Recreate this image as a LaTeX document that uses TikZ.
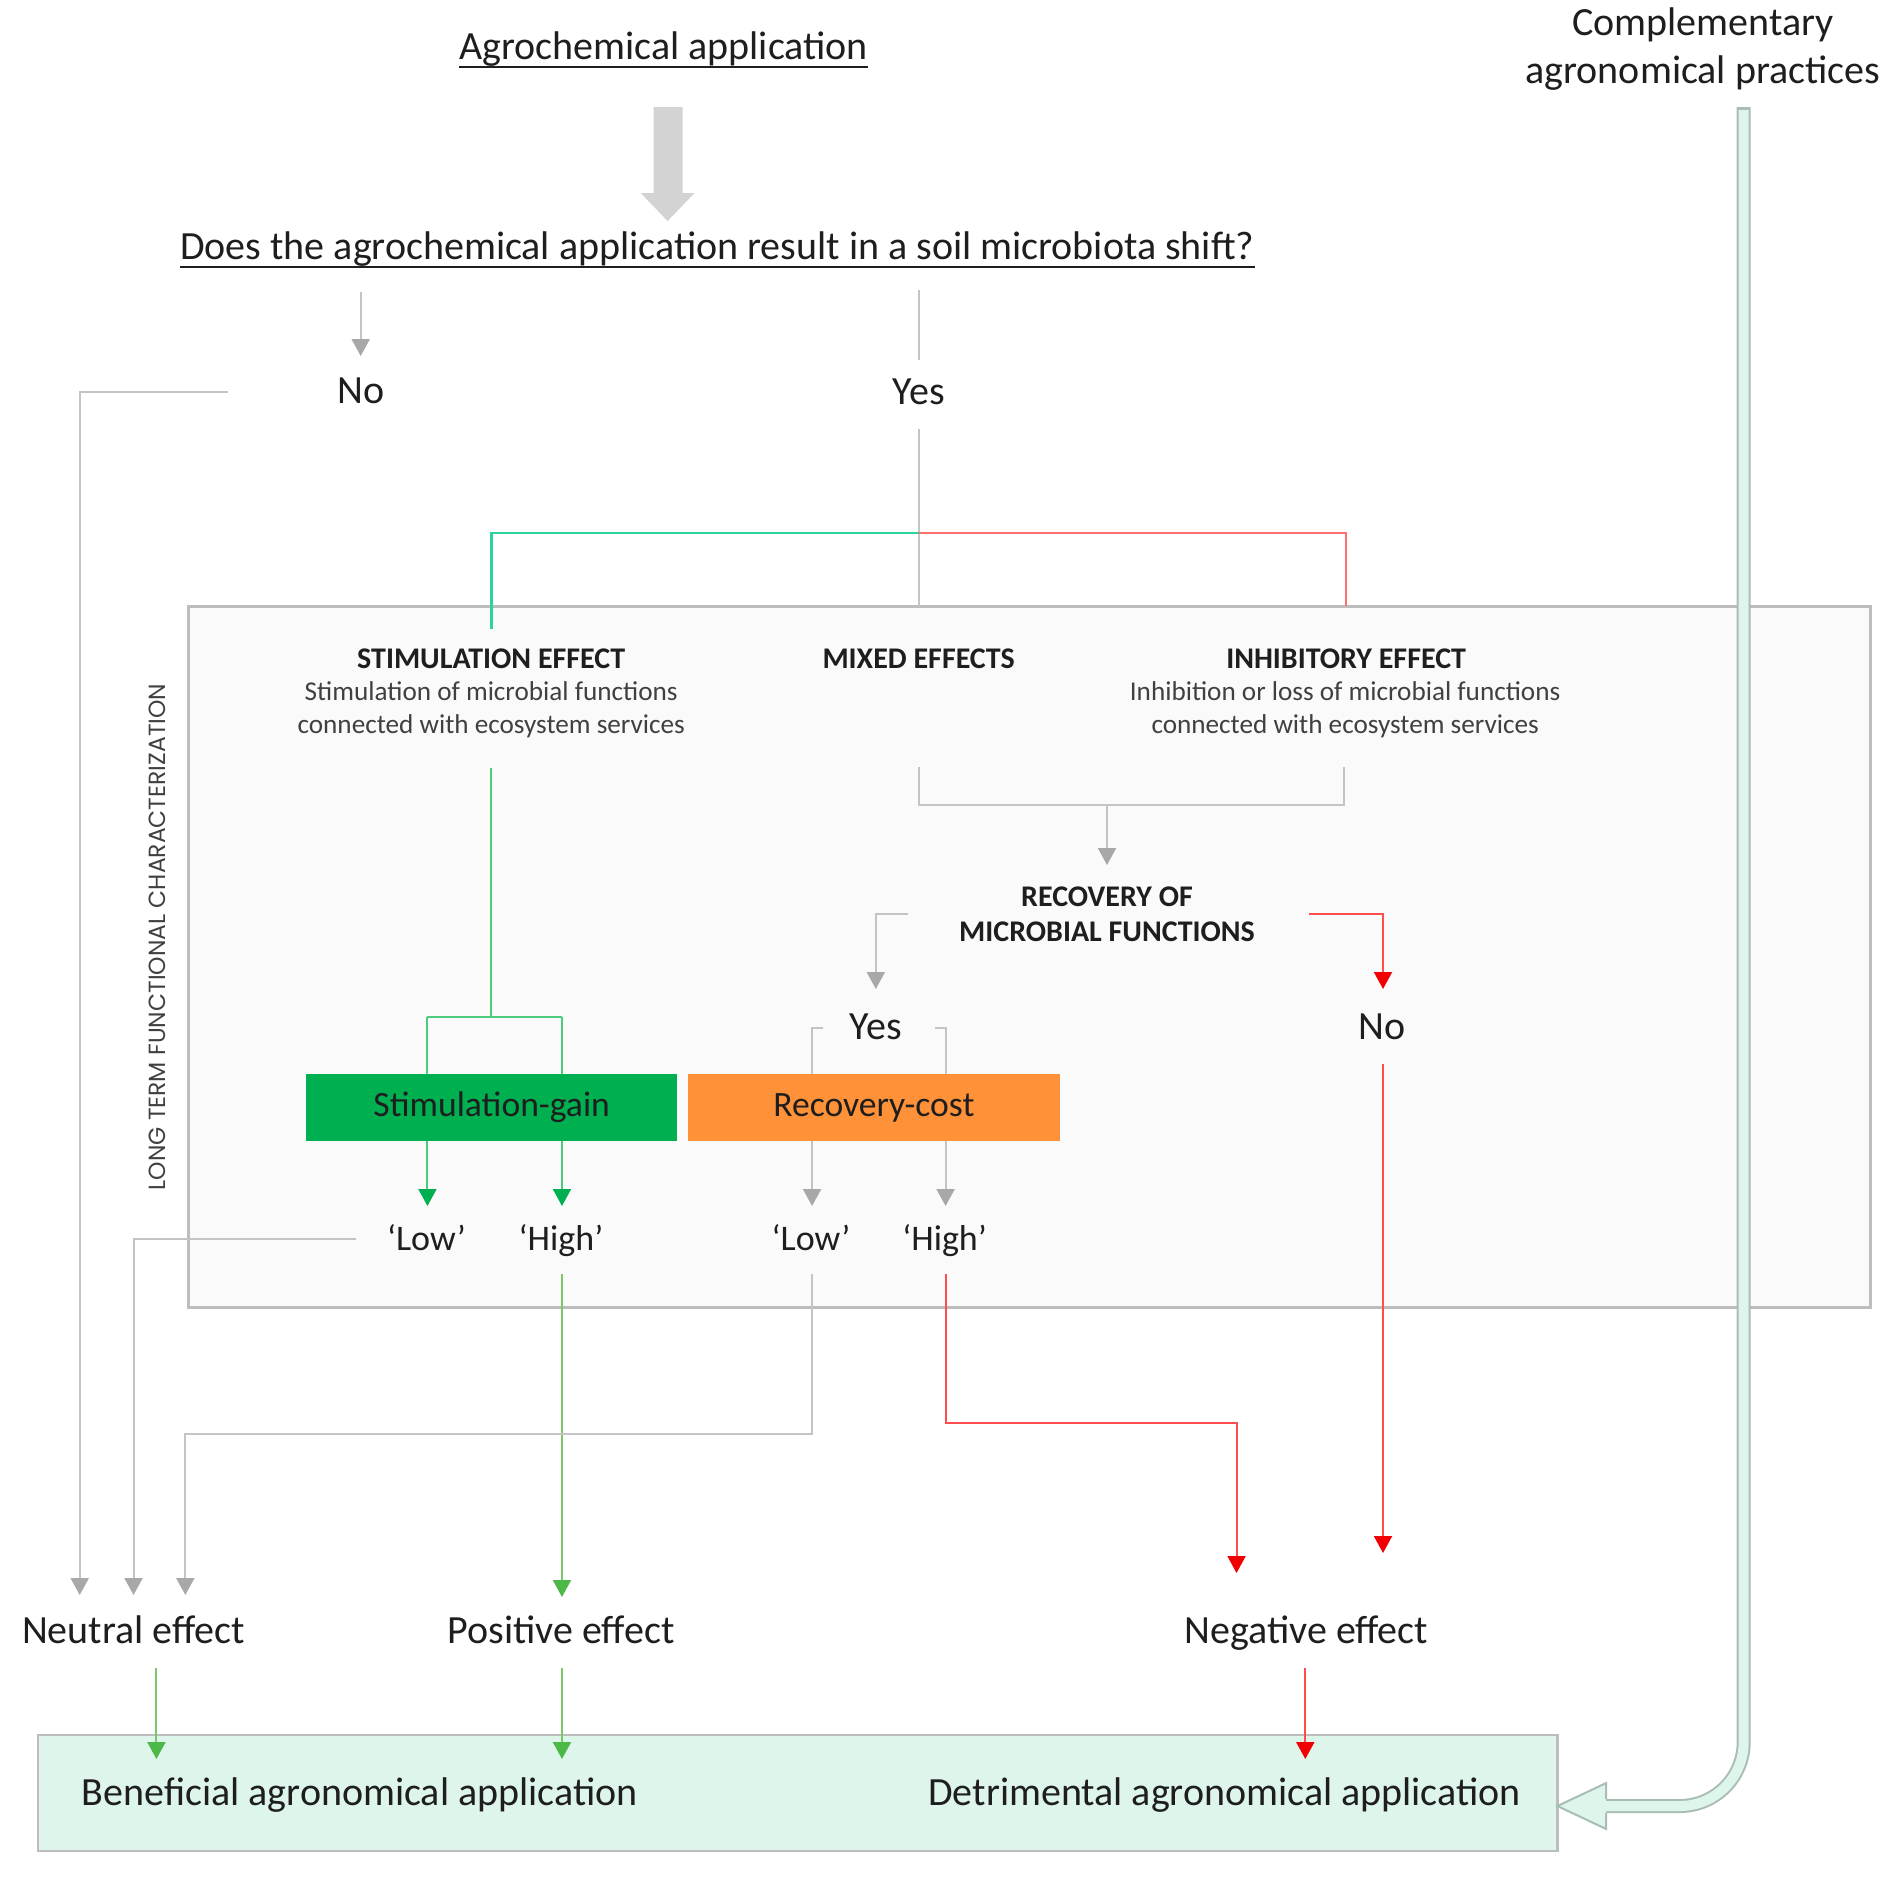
\documentclass[tikz,border=0pt]{standalone}
\usepackage{fontspec}
\setmainfont{Carlito}
\newfontfamily\gothic{Poppins}
\usetikzlibrary{arrows.meta}
\definecolor{linegray}{HTML}{C4C4C4}
\definecolor{headgray}{HTML}{A8A8A8}
\definecolor{boxgray}{HTML}{FAFAFA}
\definecolor{boxborder}{HTML}{BDBDBD}
\definecolor{topgreen}{HTML}{2ED39A}
\definecolor{topred}{HTML}{FF6F6F}
\definecolor{lightgreen}{HTML}{4CCB7A}
\definecolor{arrgreen}{HTML}{00B050}
\definecolor{posgreen}{HTML}{7AC86A}
\definecolor{posgreenhead}{HTML}{4CB847}
\definecolor{redline}{HTML}{FF4D4D}
\definecolor{redhead}{HTML}{F00000}
\definecolor{orangebox}{HTML}{FF9138}
\definecolor{mint}{HTML}{DDF5EB}
\definecolor{mintborder}{HTML}{A9BDB3}
\definecolor{bigarrowgray}{HTML}{D3D3D3}
\definecolor{txt}{HTML}{1E1E1E}
\definecolor{desctxt}{HTML}{404040}
\tikzset{
  lbl/.style={inner sep=0pt, anchor=base, text=txt, font=\fontsize{20pt}{24pt}\selectfont},
  hdtxt/.style={inner sep=0pt, anchor=base, text=txt, font=\bfseries\fontsize{15pt}{18pt}\selectfont},
  desc/.style={inner sep=0pt, anchor=base, text=desctxt, font=\fontsize{13.6pt}{16pt}\selectfont},
  qlbl/.style={inner sep=0pt, anchor=base, text=txt, font=\fontsize{18pt}{22pt}\selectfont},
  colbox/.style={inner sep=0pt, minimum width=185.7pt, minimum height=33.5pt, text=txt, font=\fontsize{17.8pt}{21pt}\selectfont},
  tipg/.style={-{Triangle[length=8.5pt,width=9pt,color=#1]}},
  gline/.style={draw=linegray, line width=1pt},
  garr/.style={gline, tipg=headgray},
  grline/.style={draw=lightgreen, line width=1pt},
  grarr/.style={grline, tipg=arrgreen},
  posarr/.style={draw=posgreen, line width=1pt, tipg=posgreenhead},
  rline/.style={draw=redline, line width=1pt},
  rarr/.style={rline, tipg=redhead},
  uline/.style={draw=txt, line width=1.4pt}
}
\begin{document}
\begin{tikzpicture}[x=0.4982pt,y=-0.5pt]
\useasboundingbox (0,0) rectangle (1906.87,1880);
\fill[white] (0,0) rectangle (1906.87,1880);

% big container
\draw[fill=boxgray, draw=boxborder, line width=1.5pt] (189,606) rectangle (1877,1307);
% bottom box
\draw[fill=mint, draw=boxborder, line width=1.2pt] (38,1735) rectangle (1563,1851);

% ---------- text nodes ----------
\node[lbl] (agro) at (666,59) {Agrochemical application};
\node[lbl] (q) at (720,259) {Does the agrochemical application result in a soil microbiota shift?};
\node[lbl] (no1) at (362,403) {No};
\node[lbl] (yes1) at (922,404) {Yes};
\node[lbl] (comp1) at (1709,35) {Complementary};
\node[lbl] (comp2) at (1709,83) {agronomical practices};

\node[hdtxt] (stimH) at (493,668) {STIMULATION EFFECT};
\node[desc] (stim1) at (493,700) {Stimulation of microbial functions};
\node[desc] (stim2) at (493,733) {connected with ecosystem services};
\node[hdtxt] (mixH) at (922,668) {MIXED EFFECTS};
\node[hdtxt] (inhH) at (1351,668) {INHIBITORY EFFECT};
\node[desc] (inh1) at (1350,700) {Inhibition or loss of microbial functions};
\node[desc] (inh2) at (1350,733) {connected with ecosystem services};

\node[hdtxt] (rec1) at (1111,906) {RECOVERY OF};
\node[hdtxt] (rec2) at (1111,941) {MICROBIAL FUNCTIONS};
\node[lbl] (yes2) at (879,1039) {Yes};
\node[lbl] (no2) at (1387,1039) {No};

\node[qlbl] (low1) at (428,1250) {‘Low’};
\node[qlbl] (high1) at (563,1250) {‘High’};
\node[qlbl] (low2) at (814,1250) {‘Low’};
\node[qlbl] (high2) at (948,1250) {‘High’};

\node[lbl] (neutral) at (134,1643) {Neutral effect};
\node[lbl] (positive) at (563,1643) {Positive effect};
\node[lbl] (negative) at (1311,1643) {Negative effect};
\node[lbl] (benef) at (361,1805) {Beneficial agronomical application};
\node[lbl] (detr) at (1229,1805) {Detrimental agronomical application};

\node[rotate=90, inner sep=0pt, text=desctxt, font=\gothic\fontsize{11.7pt}{13pt}\selectfont] (lt) at (158,937) {LONG TERM FUNCTIONAL CHARACTERIZATION};

% underlines
\draw[uline] ([yshift=-4pt]agro.base west) -- ([yshift=-4pt]agro.base east);
\draw[uline] ([yshift=-4pt]q.base west) -- ([yshift=-4pt]q.base east);

% ---------- big top arrow ----------
\fill[bigarrowgray] (656,107) -- (685,107) -- (685,193) -- (697,193) -- (670,221) -- (643,193) -- (656,193) -- cycle;

% ---------- coordinates ----------
\coordinate (noA) at (362,292);  \coordinate (noB) at (362,356);
\coordinate (yesA) at (922,290); \coordinate (yesB) at (922,360);
\coordinate (noL) at (229,392);  \coordinate (noLc) at (80,392); \coordinate (neuA) at (80,1595);
\coordinate (yesC) at (922,429); \coordinate (boxTop) at (922,606);
\coordinate (split) at (922,533);
\coordinate (gC) at (493,533); \coordinate (gD) at (493,629);
\coordinate (rC) at (1351,533); \coordinate (rD) at (1351,606);
\coordinate (stA) at (493,768); \coordinate (stB) at (493,1017);
\coordinate (brL) at (429,1017); \coordinate (brR) at (564,1017);
\coordinate (sgL) at (429,1206); \coordinate (sgR) at (564,1206);
\coordinate (mxA) at (922,767); \coordinate (mxB) at (922,805);
\coordinate (ihA) at (1349,767); \coordinate (ihB) at (1349,805);
\coordinate (mrA) at (1111,805); \coordinate (mrB) at (1111,865);
\coordinate (ryA) at (911,914); \coordinate (ryB) at (879,914); \coordinate (ryC) at (879,989);
\coordinate (rnA) at (1314,914); \coordinate (rnB) at (1388,914); \coordinate (rnC) at (1388,989);
\coordinate (yLa) at (826,1028); \coordinate (yLb) at (815,1028); \coordinate (yLc) at (815,1206);
\coordinate (yRa) at (938,1028); \coordinate (yRb) at (949,1028); \coordinate (yRc) at (949,1206);
\coordinate (l1A) at (357,1239); \coordinate (l1B) at (134,1239); \coordinate (l1C) at (134,1595);
\coordinate (h1A) at (564,1274); \coordinate (h1B) at (564,1597);
\coordinate (l2A) at (815,1274); \coordinate (l2B) at (815,1434); \coordinate (l2C) at (186,1434); \coordinate (l2D) at (186,1595);
\coordinate (h2A) at (949,1274); \coordinate (h2B) at (949,1423); \coordinate (h2C) at (1241,1423); \coordinate (h2D) at (1241,1573);
\coordinate (n2A) at (1388,1064); \coordinate (n2B) at (1388,1553);
\coordinate (neB1) at (157,1668); \coordinate (neB2) at (157,1759);
\coordinate (poB1) at (564,1668); \coordinate (poB2) at (564,1759);
\coordinate (ngB1) at (1310,1668); \coordinate (ngB2) at (1310,1759);

% ---------- connectors ----------
\draw[garr] (noA) -- (noB);
\draw[gline] (yesA) -- (yesB);
\draw[garr] (noL) -- (noLc) -- (neuA);
\draw[gline] (yesC) -- (boxTop);
\draw[draw=topgreen, line width=1.3pt] (split) -- (gC) -- (gD);
\draw[draw=topred, line width=1.3pt] (split) -- (rC) -- (rD);
\draw[grline] (stA) -- (stB);
\draw[grline] (brL) -- (brR);
\draw[grarr] (brL) -- (sgL);
\draw[grarr] (brR) -- (sgR);
\draw[gline] (mxA) -- (mxB) -- (ihB) -- (ihA);
\draw[garr] (mrA) -- (mrB);
\draw[garr] (ryA) -- (ryB) -- (ryC);
\draw[rarr] (rnA) -- (rnB) -- (rnC);
\draw[garr] (yLa) -- (yLb) -- (yLc);
\draw[garr] (yRa) -- (yRb) -- (yRc);
\draw[garr] (l1A) -- (l1B) -- (l1C);
\draw[posarr] (h1A) -- (h1B);
\draw[garr] (l2A) -- (l2B) -- (l2C) -- (l2D);
\draw[rarr] (h2A) -- (h2B) -- (h2C) -- (h2D);
\draw[rarr] (n2A) -- (n2B);
\draw[posarr] (neB1) -- (neB2);
\draw[posarr] (poB1) -- (poB2);
\draw[rarr] (ngB1) -- (ngB2);

% coloured boxes (on top of the lines)
\node[colbox, fill=arrgreen] (sg) at (493.5,1107.5) {Stimulation-gain};
\node[colbox, fill=orangebox] (rc) at (877,1107.5) {Recovery-cost};

% ---------- complementary practices hollow arrow ----------
\coordinate (cpTop) at (1750,107);
\coordinate (cpTopIn) at (1750,110);
\coordinate (cpCorner) at (1750,1806);
\coordinate (cpEnd) at (1612,1806);
\draw[draw=mintborder, line width=7pt, rounded corners=32pt] (cpTop) -- (cpCorner) -- (cpEnd);
\draw[draw=mint, line width=5pt, rounded corners=32pt] (cpTopIn) -- (cpCorner) -- (cpEnd);
\fill[mint] (1563,1806) -- (1612,1783) -- (1612,1829) -- cycle;
\draw[draw=mintborder, line width=1pt, line join=miter] (1612,1799) -- (1612,1783) -- (1563,1806) -- (1612,1829) -- (1612,1813);
\end{tikzpicture}
\end{document}
